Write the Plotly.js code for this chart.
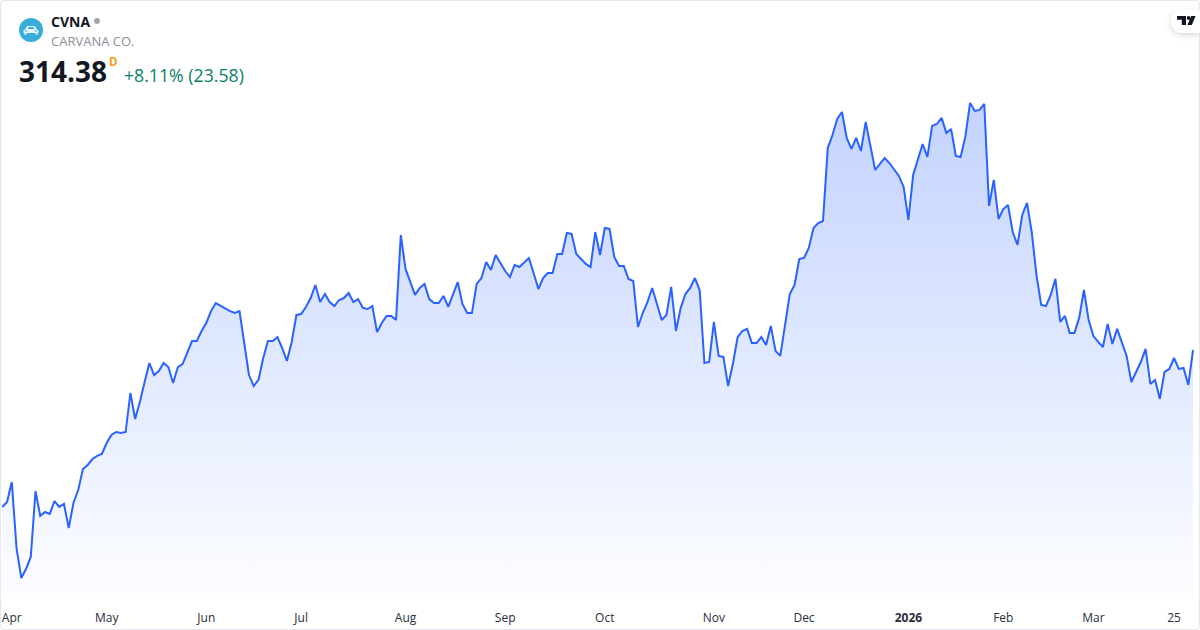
<!DOCTYPE html>
<html>
<head>
<meta charset="utf-8">
<script src="https://cdn.plot.ly/plotly-3.0.1.min.js"></script>
<style>
html,body{margin:0;padding:0;background:#fff;overflow:hidden}
#wrap{position:relative;width:1200px;height:630px}
#chart{position:absolute;left:0;top:0;width:1200px;height:630px}
#frame{position:absolute;left:0;top:0;width:1198px;height:628px;border:1px solid #e6e8ee;border-radius:4px;pointer-events:none}
#deco{position:absolute;left:0;top:0;pointer-events:none}
</style>
</head>
<body>
<div id="wrap">
<div id="chart"></div>
<div id="frame"></div>
<svg id="deco" width="1200" height="630" xmlns="http://www.w3.org/2000/svg">
  <defs><filter id="sh" x="-50%" y="-50%" width="200%" height="200%"><feDropShadow dx="0" dy="2" stdDeviation="3" flood-color="#000" flood-opacity="0.16"/></filter></defs>
  <circle cx="31" cy="30" r="12" fill="#39acdb"/>
  <path d="M23.5 33v-2.6l1.8-1.2 1.4-2.6a1.4 1.4 0 0 1 1.3-.7h6a1.4 1.4 0 0 1 1.3.7l1.4 2.6 1.8 1.2v2.6z M28.6 26.9l-1.2 2.2h7.2l-1.2-2.2z M25 30.4v1.2h2.6v-1.2z M34.4 30.4v1.2h2.6v-1.2z" fill="#eaf7fc" fill-rule="evenodd"/>
  <rect x="24.4" y="33" width="2.2" height="1.6" fill="#eaf7fc"/><rect x="35.4" y="33" width="2.2" height="1.6" fill="#eaf7fc"/>
  <circle cx="97" cy="21" r="3" fill="#a3a6af"/>
  <path d="M1200 10h-17.5a11.5 11.5 0 0 0 0 23h17.5z" fill="#fff" filter="url(#sh)"/>
  <path d="M1177 16h9v9h-4.2v-5.2h-4.8z" fill="#131722"/>
  <circle cx="1188.6" cy="18" r="1.9" fill="#131722"/>
  <path d="M1191.2 16h4.4l-3.8 9h-4.4z" fill="#131722"/>
</svg>
</div>
<script>
var closes = [
208.6,211.9,225.4,180.9,160.7,166.8,174.9,219.3,202.5,205.2,203.9,212.6,208.6,210.6,194.4,211.3,220.0,234.2,236.9,240.9,243.0,244.3,251.7,257.1,259.1,258.5,259.1,285.4,267.9,279.3,292.8,305.6,297.5,300.2,305.6,302.9,292.1,302.9,304.9,313.0,320.4,320.4,327.2,332.6,340.6,346.0,344.0,342.0,340.6,339.3,340.6,319.1,297.5,290.1,294.2,309.0,320.4,320.4,323.1,315.7,307.0,319.8,338.0,
338.6,343.4,349.4,358.2,346.7,352.1,346.7,344.0,348.1,349.4,352.8,346.7,348.7,342.7,342.0,344.0,326.5,332.6,337.3,337.3,334.6,391.9,369.0,360.9,351.5,356.2,358.9,348.7,346.0,346.0,350.8,343.4,351.5,360.2,345.4,339.3,339.3,358.9,362.9,373.7,368.3,378.4,373.0,367.6,363.6,371.7,370.3,373.7,376.4,366.3,355.5,362.9,366.3,366.3,379.1,379.1,393.3,392.6,379.1,375.7,372.4,370.3,393.9,
378.4,396.6,396.0,377.1,371.0,371.0,362.3,360.9,329.9,339.3,346.7,356.2,345.4,334.6,338.0,356.9,327.2,342.7,352.1,356.2,362.9,354.8,305.6,306.3,333.3,310.4,309.7,290.1,304.9,323.1,327.2,328.6,319.1,319.1,323.1,317.8,330.6,313.7,310.4,331.2,352.1,358.2,375.7,376.4,383.1,396.6,400.0,401.3,
450.5,459.3,470.1,474.8,457.3,449.9,457.3,448.5,468.1,451.9,435.7,439.8,443.8,440.4,435.7,431.7,424.3,402.0,432.3,442.5,453.2,444.5,465.4,466.7,470.8,460.7,463.4,445.2,444.5,458.0,480.9,475.5,476.2,480.2,411.5,429.0,402.7,409.4,412.1,393.9,385.2,405.4,413.5,393.9,364.9,344.7,344.0,351.5,362.3,333.3,337.3,325.9,325.9,336.0,354.8,334.6,323.8,319.8,316.4,331.9,318.4,328.6,319.8,310.4,292.8,299.6,306.3,315.1,291.5,294.2,281.4,299.6,301.6,309.0,301.6,302.3,290.80,314.38
];
var barIndex = closes.map(function(_, i){ return i; });
var tickIndex = [2,22,43,63,85,106,127,150,169,191,211,230,247];
var tickLabels = ['Apr','May','Jun','Jul','Aug','Sep','Oct','Nov','Dec','<b>2026</b>','Feb','Mar','25'];

var W = 1200, PH = 600;
function ann(text, px, py, size, color){
  return {text:text, xref:'paper', yref:'paper', x:px/W, y:1-py/PH, xanchor:'left', yanchor:'middle',
    showarrow:false, align:'left', borderpad:0, font:{family:'"Open Sans", sans-serif', size:size, color:color}};
}
var trace = {
  x: barIndex, y: closes, type:'scatter', mode:'lines', hoverinfo:'skip',
  line:{color:'#2962FF', width:2, shape:'linear'},
  fill:'tozeroy',
  fillgradient:{type:'vertical', start:481, stop:146,
    colorscale:[[0,'rgba(41,98,255,0.28)'],[1,'rgba(41,98,255,0.01)']]}
};
var layout = {
  width:1200, height:630, margin:{l:0,r:0,t:0,b:30,pad:0},
  paper_bgcolor:'#ffffff', plot_bgcolor:'#ffffff', showlegend:false,
  xaxis:{range:[-0.485,252.47], showgrid:false, zeroline:false, showline:false,
    tickmode:'array', tickvals:tickIndex, ticktext:tickLabels, ticks:'outside', ticklen:7, tickcolor:'rgba(0,0,0,0)',
    tickfont:{family:'"Open Sans", sans-serif', size:12, color:'#2a2e39'}, fixedrange:true},
  yaxis:{range:[145.88,550.28], visible:false, fixedrange:true},
  annotations:[
    ann('<b>CVNA</b>', 50, 21, 14, '#131722'),
    ann('CARVANA CO.', 50, 41, 13, '#8c8f99'),
    ann('<b>314.38</b>', 18, 71, 28, '#131722'),
    ann('<b>D</b>', 108, 61, 11.5, '#f59d0e'),
    ann('+8.11% (23.58)', 123, 75, 17.7, '#0a8068')
  ]
};
Plotly.newPlot('chart',[trace],layout,{displayModeBar:false,staticPlot:true});
</script>
</body>
</html>
